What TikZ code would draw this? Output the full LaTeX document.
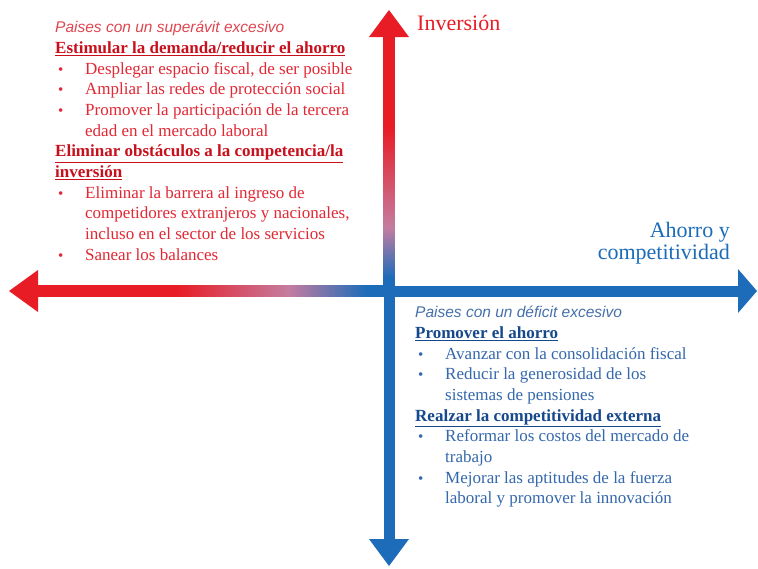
\documentclass[tikz,border=0pt]{standalone}
\usepackage{fontspec}
\setmainfont{Liberation Serif}
\newfontfamily\subfont{Liberation Sans}
\usetikzlibrary{calc}
\definecolor{axred}{RGB}{232,28,36}
\definecolor{axblue}{RGB}{28,108,186}
\definecolor{axmid}{RGB}{196,124,160}
\definecolor{txtred}{RGB}{226,40,52}
\definecolor{hdred}{RGB}{200,16,28}
\definecolor{subred}{RGB}{222,70,80}
\definecolor{txtblue}{RGB}{52,104,172}
\definecolor{hdblue}{RGB}{22,72,140}
\definecolor{subblue}{RGB}{70,112,170}
% red-to-blue fades of the two axis halves
\pgfdeclareverticalshading{vaxis}{100bp}{color(0bp)=(axblue); color(27bp)=(axblue);
  color(37bp)=(axmid); color(57bp)=(axred); color(100bp)=(axred)}
\pgfdeclarehorizontalshading{haxis}{100bp}{color(0bp)=(axred); color(45bp)=(axred);
  color(61bp)=(axmid); color(72bp)=(axblue); color(100bp)=(axblue)}
\newcommand{\bul}{\makebox[30pt][l]{\hspace{3pt}{\fontsize{15}{15}\selectfont\textbullet}}}
\newcommand{\cont}{\hspace*{30pt}}
\newcommand{\subhd}[1]{{\subfont\itshape\fontsize{15.5}{20.7}\selectfont #1}}
\tikzset{
  block/.style={anchor=north west, align=left, inner sep=0pt,
    font=\fontsize{17}{20.7}\selectfont},
  axlabel/.style={inner sep=0pt, font=\fontsize{22}{22}\selectfont},
}
\begin{document}
\begin{tikzpicture}[x=1pt,y=-1pt]
\useasboundingbox[fill=white] (0,0) rectangle (758,568);
\coordinate (o) at (389,291);
\coordinate (top) at (389,10);
\coordinate (bot) at (389,566);
\coordinate (lft) at (9,291);
\coordinate (rgt) at (757,291);
% vertical axis
\shade[shading=vaxis] ($(top)+(-5.5,26)$) rectangle ($(o)+(5.5,-3)$);
\fill[axblue] ($(o)+(-5.5,-5)$) rectangle ($(bot)+(5.5,-24)$);
\fill[axred] (top) -- ++(-20,27) -- ++(40,0) -- cycle;
\fill[axblue] (bot) -- ++(-20,-27) -- ++(40,0) -- cycle;
% horizontal axis
\shade[shading=haxis] ($(lft)+(27,-5.5)$) rectangle ($(o)+(-2,5.5)$);
\fill[axblue] ($(o)+(-4,-5.5)$) rectangle ($(rgt)+(-17,5.5)$);
\fill[axred] (lft) -- ++(29,-21) -- ++(0,42) -- cycle;
\fill[axblue] (rgt) -- ++(-19,-22) -- ++(0,44) -- cycle;
% axis labels
\node[axlabel, text=axred, anchor=north west] (inv) at (417,15) {Inversión};
\node[axlabel, text=axblue, anchor=north east, align=right] (ahorro) at (730,222)
  {Ahorro y\\competitividad};
% surplus countries
\node[block, text=txtred] (superavit) at (55,21) {%
  \textcolor{subred}{\subhd{Paises con un superávit excesivo}}\\
  \textcolor{hdred}{\textbf{\underline{Estimular la demanda/reducir el ahorro}}}\\
  \bul Desplegar espacio fiscal, de ser posible\\
  \bul Ampliar las redes de protección social\\
  \bul Promover la participación de la tercera\\
  \cont edad en el mercado laboral\\
  \textcolor{hdred}{\textbf{\underline{Eliminar obstáculos a la competencia/la}}}\\
  \textcolor{hdred}{\textbf{\underline{inversión}}}\\
  \bul Eliminar la barrera al ingreso de\\
  \cont competidores extranjeros y nacionales,\\
  \cont incluso en el sector de los servicios\\
  \bul Sanear los balances};
% deficit countries
\node[block, text=txtblue] (deficit) at (415,306) {%
  \textcolor{subblue}{\subhd{Paises con un déficit excesivo}}\\
  \textcolor{hdblue}{\textbf{\underline{Promover el ahorro}}}\\
  \bul Avanzar con la consolidación fiscal\\
  \bul Reducir la generosidad de los\\
  \cont sistemas de pensiones\\
  \textcolor{hdblue}{\textbf{\underline{Realzar la competitividad externa}}}\\
  \bul Reformar los costos del mercado de\\
  \cont trabajo\\
  \bul Mejorar las aptitudes de la fuerza\\
  \cont laboral y promover la innovación};
\end{tikzpicture}
\end{document}
